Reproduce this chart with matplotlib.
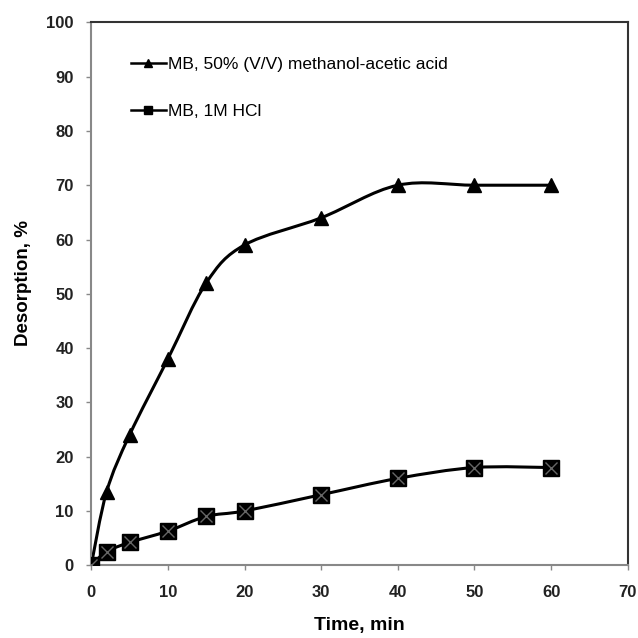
import numpy as np
import matplotlib
matplotlib.use("Agg")
import matplotlib.pyplot as plt
from matplotlib.path import Path
from matplotlib.patches import PathPatch

plt.rcParams['font.family'] = ['Liberation Sans', 'DejaVu Sans']

# desorption of MB over time for the two eluents
time_acid = [0, 2, 5, 10, 15, 20, 30, 40, 50, 60]
desorb_acid = [0, 13.5, 24, 38, 52, 59, 64, 70, 70, 70]
time_hcl = [0, 2, 5, 10, 15, 20, 30, 40, 50, 60]
desorb_hcl = [0, 2.5, 4.2, 6.3, 9, 10, 13, 16, 18, 18]

label_acid = "MB, 50% (V/V) methanol-acetic acid"
label_hcl = "MB, 1M HCl"


def smooth_path(xs, ys, t=1/6):
    # Catmull-Rom style bezier segments through the points
    pts = np.column_stack([xs, ys]).astype(float)
    n = len(pts)
    verts = [pts[0]]
    codes = [Path.MOVETO]
    for i in range(n - 1):
        p0 = pts[i - 1] if i > 0 else pts[i]
        p1 = pts[i]
        p2 = pts[i + 1]
        p3 = pts[i + 2] if i + 2 < n else pts[i + 1]
        c1 = p1 + (p2 - p0) * t
        c2 = p2 - (p3 - p1) * t
        verts += [c1, c2, p2]
        codes += [Path.CURVE4] * 3
    return Path(verts, codes)


fig = plt.figure(figsize=(6.38, 6.38), dpi=100)
ax = fig.add_axes([0.143, 0.114, 0.841, 0.851])

ax.add_patch(PathPatch(smooth_path(time_acid, desorb_acid), fill=False,
                       lw=2.2, color="black", zorder=2))
ax.add_patch(PathPatch(smooth_path(time_hcl, desorb_hcl), fill=False,
                       lw=2.2, color="black", zorder=2))

ax.plot(time_acid, desorb_acid, ls="none", marker="^", ms=10,
        color="black", zorder=3)
ax.plot(time_hcl, desorb_hcl, ls="none", marker="s", ms=11,
        color="black", zorder=3)
ax.plot(time_hcl, desorb_hcl, ls="none", marker="x", ms=8, mew=1,
        color="#666666", zorder=4)

# legend entries drawn as proxies
ax.plot([], [], color="black", lw=1.8, marker="^", ms=6, label=label_acid)
ax.plot([], [], color="black", lw=1.8, marker="s", ms=6, label=label_hcl)
ax.legend(loc="upper left", bbox_to_anchor=(0.045, 0.965), frameon=False,
          fontsize=12.5, handlelength=2.0, handletextpad=0.15,
          labelspacing=1.85, markerscale=1)

ax.set_xlim(0, 70)
ax.set_ylim(0, 100)
ax.set_xticks(range(0, 71, 10))
ax.set_yticks(range(0, 101, 10))
ax.tick_params(axis="both", labelsize=12, length=3.5, width=1,
               color="#888888")
for lab in ax.get_xticklabels() + ax.get_yticklabels():
    lab.set_fontweight("bold")
    lab.set_color("#222222")
ax.tick_params(axis="x", pad=11)
ax.tick_params(axis="y", pad=9)

ax.spines["left"].set_color("#888888")
ax.spines["bottom"].set_color("#888888")
ax.spines["left"].set_linewidth(1.5)
ax.spines["bottom"].set_linewidth(1.5)
ax.spines["top"].set_color("#333333")
ax.spines["right"].set_color("#333333")
ax.spines["top"].set_linewidth(1.5)
ax.spines["right"].set_linewidth(1.5)

ax.set_xlabel("Time, min", fontsize=14, fontweight="bold")
ax.set_ylabel("Desorption, %", fontsize=13.5, fontweight="bold")
ax.xaxis.set_label_coords(0.5, -0.096)
ax.yaxis.set_label_coords(-0.11, 0.52)

fig.savefig("out.png", dpi=100)
